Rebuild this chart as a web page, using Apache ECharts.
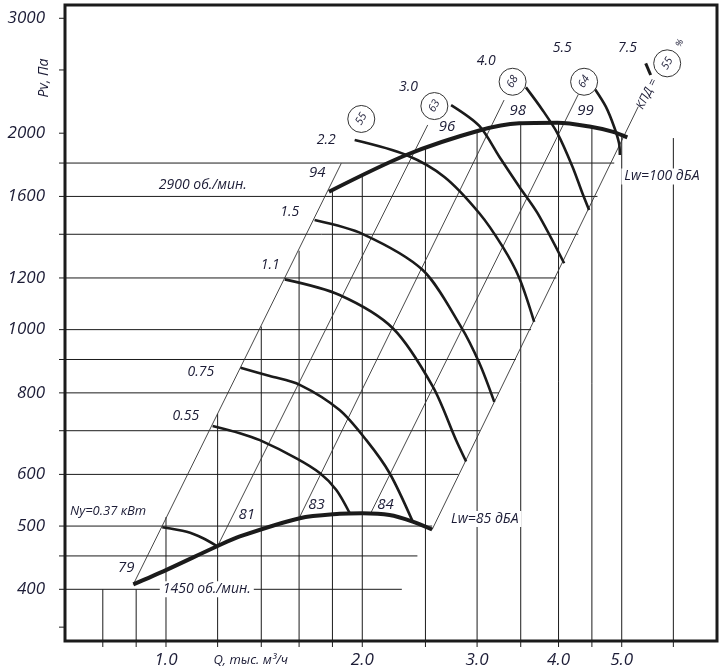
<!DOCTYPE html>
<html>
<head>
<meta charset="utf-8">
<script src="https://cdn.jsdelivr.net/npm/echarts@6/dist/echarts.min.js"></script>
<style>
html, body { margin: 0; background: #fff; }
#main { width: 720px; height: 670px; }
</style>
</head>
<body>
<div id="main"></div>
<script>
// оси (лог. шкала)
var qMin = 0.7, qMax = 7.0;
var pMin = 333.3, pMax = 3144;
var yTicks = [350, 400, 450, 500, 600, 700, 800, 900, 1000, 1200, 1400, 1600, 1800, 2000, 2500, 3000];
var yLabels = [400, 500, 600, 800, 1000, 1200, 1600, 2000, 3000];
var xTicks = [0.8, 0.9, 1.0, 1.2, 1.4, 1.6, 1.8, 2.0, 2.5, 3.0, 3.5, 4.0, 4.5, 5.0, 6.0];
var xLabels = [1.0, 2.0, 3.0, 4.0, 5.0];

// сетка: верх вертикальных линий и конец горизонтальных
var vTops = [400, 400, 516, 743, 1011, 1321, 1631, 1714, 1895, 2013, 2071, 2075, 2046, 1973, 1966];
var hLevels = [400, 450, 500, 600, 700, 800, 900, 1000, 1200, 1400, 1600, 1800];
var hEnds = [2.30, 2.43, 2.56, 2.81, 3.03, 3.24, 3.44, 3.63, 3.97, 4.29, 4.59, 4.87];

// частота вращения
var rpm1450 = [[0.891, 407], [1.0, 428], [1.2, 466], [1.298, 482], [1.604, 514], [1.846, 522], [2.0, 523], [2.202, 520], [2.39, 508], [2.56, 494]];
var rpm2900 = [[1.778, 1627], [2.336, 1852], [3.024, 2019], [3.482, 2071], [3.985, 2075], [4.482, 2046], [4.836, 2011], [5.10, 1971]];

// мощность двигателя Ny, кВт
var n037 = [[0.987, 498], [1.076, 490], [1.14, 479], [1.197, 466]];
var n055 = [[1.179, 712], [1.298, 694], [1.393, 677], [1.585, 635], [1.721, 603], [1.825, 568], [1.912, 524]];
var n075 = [[1.301, 874], [1.443, 849], [1.604, 823], [1.846, 753], [2.029, 677], [2.202, 603], [2.39, 508]];
var n11 = [[1.521, 1194], [1.846, 1130], [2.228, 1005], [2.566, 818], [2.786, 677], [2.886, 628]];
var n15 = [[1.690, 1472], [2.004, 1401], [2.476, 1234], [2.835, 1010], [3.024, 889], [3.188, 775]];
var n22 = [[1.947, 1952], [2.336, 1852], [2.673, 1714], [3.024, 1508], [3.283, 1340], [3.482, 1200], [3.670, 1028]];
var n30 = [[2.737, 2209], [3.024, 2052], [3.245, 1841], [3.482, 1656], [3.714, 1508], [4.08, 1264]];
var n40 = [[3.565, 2351], [3.779, 2171], [3.985, 1999], [4.202, 1777], [4.352, 1618], [4.456, 1525]];
var n55 = [[4.55, 2335], [4.727, 2196], [4.867, 2046], [4.953, 1930], [4.967, 1852]];
var n75 = [[5.442, 2559], [5.538, 2456]];

// линии КПД
var effA = [[0.891, 407], [1.857, 1798]];
var effB = [[1.20, 466], [2.52, 2059]];
var effC = [[1.60, 514], [3.30, 2248]];
var effD = [[2.06, 523], [4.29, 2294]];
var effE = [[2.56, 494], [5.30, 2196]];
var effLabels = ['55', '63', '68', '64', '55'];
var effPos = [[1.993, 2103], [2.58, 2201], [3.401, 2398], [4.378, 2398], [5.871, 2559]];

// подписи
var notes = [
    {t: 'Ny=0.37 кВт', q: 0.815, p: 526.5, s: 13},
    {t: '79', q: 0.869, p: 431, s: 15},
    {t: '1450 об./мин.', q: 1.155, p: 400, s: 14, bg: true},
    {t: '81', q: 1.330, p: 520, s: 15},
    {t: '83', q: 1.702, p: 538.6, s: 15},
    {t: '84', q: 2.171, p: 538.6, s: 15},
    {t: 'Lw=85 дБА', q: 3.083, p: 512.6, s: 14, bg: true},
    {t: '0.55', q: 1.073, p: 737.5, s: 14},
    {t: '0.75', q: 1.131, p: 860, s: 14},
    {t: '1.1', q: 1.445, p: 1254, s: 14},
    {t: '1.5', q: 1.548, p: 1512, s: 14},
    {t: '2.2', q: 1.761, p: 1952, s: 14},
    {t: '94', q: 1.706, p: 1741, s: 15},
    {t: '2900 об./мин.', q: 1.139, p: 1666, s: 14},
    {t: '3.0', q: 2.355, p: 2350, s: 14},
    {t: '96', q: 2.697, p: 2048, s: 15},
    {t: '4.0', q: 3.099, p: 2580, s: 14},
    {t: '98', q: 3.464, p: 2163, s: 15},
    {t: '5.5', q: 4.052, p: 2702, s: 14},
    {t: '99', q: 4.401, p: 2163, s: 15},
    {t: '7.5', q: 5.104, p: 2702, s: 14},
    {t: 'Lw=100 дБА', q: 5.763, p: 1717, s: 14, bg: true},
    {t: 'КПД =', q: 5.467, p: 2297, s: 12, r: 1.107},
    {t: '%', q: 6.141, p: 2749, s: 9, r: 1.107}
];

var ink = '#1b1b1b';
var textInk = '#1c1c36';
var fontFam = '"Open Sans", "DejaVu Sans", sans-serif';

function fontOf(size) {
    return 'italic ' + size + 'px ' + fontFam;
}

// сетка
var gridSegs = [];
for (let i = 0; i < xTicks.length; i++) {
    gridSegs.push([xTicks[i], pMin, xTicks[i], vTops[i]]);
}
for (let i = 0; i < hLevels.length; i++) {
    gridSegs.push([qMin, hLevels[i], hEnds[i], hLevels[i]]);
}

function renderSeg(params, api) {
    let a = api.coord([api.value(0), api.value(1)]);
    let b = api.coord([api.value(2), api.value(3)]);
    return {
        type: 'line',
        shape: {x1: a[0], y1: a[1], x2: b[0], y2: b[1]},
        style: {stroke: ink, lineWidth: 1}
    };
}

function curve(data, width, smooth) {
    return {
        type: 'line',
        data: data,
        smooth: smooth,
        symbol: 'none',
        silent: true,
        lineStyle: {color: ink, width: width},
        z: 5
    };
}

function effLine(data) {
    return {
        type: 'line',
        data: data,
        symbol: 'none',
        silent: true,
        lineStyle: {color: '#333', width: 0.9},
        z: 3
    };
}

var chart = document.getElementById('main');
var echart = echarts.init(chart);

var option = {
    animation: false,
    grid: {
        left: 65, top: 5, right: 3, bottom: 29,
        show: true, borderColor: ink, borderWidth: 3, backgroundColor: 'transparent', z: 10
    },
    xAxis: {
        type: 'log', logBase: 10, min: qMin, max: qMax,
        axisLine: {show: false}, axisTick: {show: false},
        axisLabel: {show: false}, splitLine: {show: false}
    },
    yAxis: {
        type: 'log', logBase: 10, min: pMin, max: pMax,
        axisLine: {show: false}, axisTick: {show: false},
        axisLabel: {show: false}, splitLine: {show: false}
    },
    series: [
        {
            type: 'custom',
            data: gridSegs,
            renderItem: renderSeg,
            silent: true,
            z: 2
        },
        effLine(effA),
        effLine(effB),
        effLine(effC),
        effLine(effD),
        effLine(effE),
        curve(n037, 2.6, 0.3),
        curve(n055, 2.6, 0.3),
        curve(n075, 2.6, 0.3),
        curve(n11, 2.6, 0.3),
        curve(n15, 2.6, 0.3),
        curve(n22, 2.6, 0.3),
        curve(n30, 2.6, 0.3),
        curve(n40, 2.6, 0.3),
        curve(n55, 2.6, 0.3),
        curve(n75, 3, 0),
        curve(rpm1450, 4, 0.3),
        curve(rpm2900, 4, 0.3),
        // засечки оси Y
        {
            type: 'custom',
            data: yTicks.map(function (p) { return [qMin, p]; }),
            silent: true,
            z: 6,
            renderItem: function (params, api) {
                let c = api.coord([api.value(0), api.value(1)]);
                return {type: 'line', shape: {x1: c[0] - 6, y1: c[1], x2: c[0], y2: c[1]},
                    style: {stroke: ink, lineWidth: 1}};
            }
        },
        // засечки оси X
        {
            type: 'custom',
            data: xTicks.map(function (q) { return [q, pMin]; }),
            silent: true,
            z: 6,
            renderItem: function (params, api) {
                let c = api.coord([api.value(0), api.value(1)]);
                return {type: 'line', shape: {x1: c[0], y1: c[1], x2: c[0], y2: c[1] + 6},
                    style: {stroke: ink, lineWidth: 1}};
            }
        },
        // подписи оси Y
        {
            type: 'custom',
            data: yLabels.map(function (p) { return [qMin, p]; }),
            silent: true,
            z: 6,
            renderItem: function (params, api) {
                let c = api.coord([api.value(0), api.value(1)]);
                return {type: 'text', x: c[0] - 20, y: c[1],
                    style: {text: String(yLabels[params.dataIndex]), font: fontOf(17), fill: textInk,
                        align: 'right', verticalAlign: 'middle'}};
            }
        },
        // подписи оси X
        {
            type: 'custom',
            data: xLabels.map(function (q) { return [q, pMin]; }),
            silent: true,
            z: 6,
            renderItem: function (params, api) {
                let c = api.coord([api.value(0), api.value(1)]);
                return {type: 'text', x: c[0], y: c[1] + 19,
                    style: {text: xLabels[params.dataIndex].toFixed(1), font: fontOf(17), fill: textInk,
                        align: 'center', verticalAlign: 'middle'}};
            }
        },
        // названия осей
        {
            type: 'custom',
            data: [[1.349, pMin], [qMin, 2430]],
            silent: true,
            z: 6,
            renderItem: function (params, api) {
                let c = api.coord([api.value(0), api.value(1)]);
                if (params.dataIndex === 0) {
                    return {type: 'text', x: c[0], y: c[1] + 19,
                        style: {text: 'Q, тыс. м³/ч', font: fontOf(13), fill: textInk,
                            align: 'center', verticalAlign: 'middle'}};
                }
                return {type: 'text', x: c[0] - 21, y: c[1], rotation: Math.PI / 2,
                    style: {text: 'Pv, Па', font: fontOf(14), fill: textInk,
                        align: 'center', verticalAlign: 'middle'}};
            }
        },
        // кружки КПД
        {
            type: 'custom',
            data: effPos,
            silent: true,
            z: 7,
            renderItem: function (params, api) {
                let c = api.coord([api.value(0), api.value(1)]);
                return {
                    type: 'group',
                    children: [
                        {type: 'circle', shape: {cx: c[0], cy: c[1], r: 13.5},
                            style: {fill: '#fff', stroke: '#333', lineWidth: 1}},
                        {type: 'text', x: c[0], y: c[1], rotation: 1.05,
                            style: {text: effLabels[params.dataIndex], font: fontOf(11), fill: textInk,
                                align: 'center', verticalAlign: 'middle'}}
                    ]
                };
            }
        },
        // прочие подписи
        {
            type: 'custom',
            data: notes.map(function (n) { return [n.q, n.p]; }),
            silent: true,
            z: 8,
            renderItem: function (params, api) {
                let n = notes[params.dataIndex];
                let c = api.coord([api.value(0), api.value(1)]);
                let st = {text: n.t, font: fontOf(n.s), fill: textInk, align: 'center', verticalAlign: 'middle'};
                if (n.bg) {
                    st.backgroundColor = '#fff';
                    st.padding = [1, 3];
                }
                return {type: 'text', x: c[0], y: c[1], rotation: n.r || 0, style: st};
            }
        }
    ]
};
echart.setOption(option);
</script>
</body>
</html>
